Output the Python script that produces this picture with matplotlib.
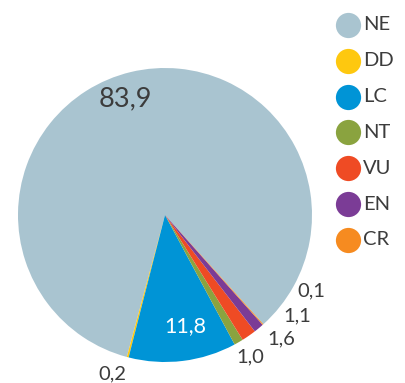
import numpy as np
import matplotlib
matplotlib.use("Agg")
from matplotlib import pyplot as plt

# red list categories and their share (%)
categories = ["NE", "DD", "LC", "NT", "VU", "EN", "CR"]
shares = [83.9, 0.2, 11.8, 1.0, 1.6, 1.1, 0.1]
colors = ["#a9c4d0", "#fec80f", "#0094d6", "#8aa33f", "#ef4b24", "#7b3c96", "#f68b20"]

plt.rcParams['font.family'] = ['Lato', 'DejaVu Sans']
text_col = "#3c3c3c"

fig = plt.figure(figsize=(4.05, 3.83), dpi=100)
ax = fig.add_axes([0, 0, 1, 1])
ax.set_xlim(0, 405)
ax.set_ylim(0, 383)
ax.axis("off")

# pie centre and radius in pixel units (y measured upward)
cx, cy, r = 165, 383 - 215, 147
wedges, _ = ax.pie(shares, colors=colors, center=(cx, cy), radius=r,
                   startangle=-48, counterclock=True,
                   wedgeprops=dict(linewidth=0))
ax.set_xlim(0, 405)
ax.set_ylim(0, 383)
ax.set_aspect("equal")

# value labels: (x, y) in pixels from top-left, text colour, size
lab_pos = [(125, 99, text_col, 19.5), (112, 374, text_col, 14.5),
           (185, 326, "white", 15.5), (250, 357, text_col, 14.5),
           (281, 339, text_col, 14.5), (297, 316, text_col, 14.5),
           (311, 291, text_col, 14.5)]
for v, (x, y, c, s) in zip(shares, lab_pos):
    ax.text(x, 383 - y, f"{v:.1f}".replace(".", ","), color=c, fontsize=s,
            ha="center", va="center")

# legend column
for i, (name, c) in enumerate(zip(categories, colors)):
    y = 383 - (25 + i * 35.8)
    ax.scatter([348], [y], s=330, color=c, linewidths=0)
    ax.text(363, y, name, color=text_col, fontsize=14.5, ha="left", va="center")

fig.savefig("out.png", dpi=100)
